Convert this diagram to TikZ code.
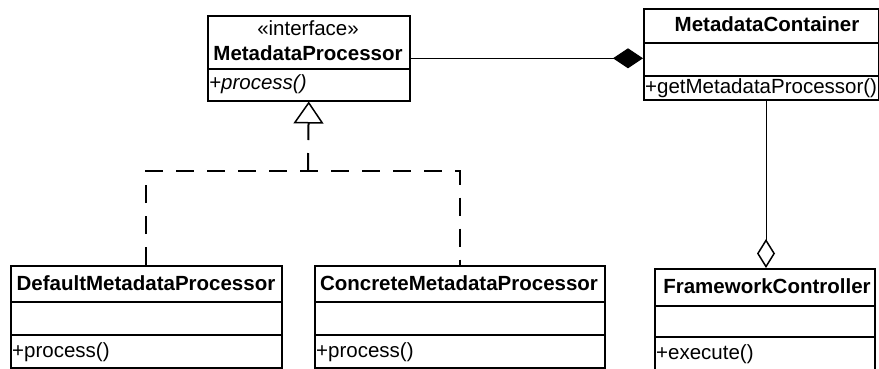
\documentclass[tikz,border=0pt]{standalone}
\usepackage{fontspec}
\setmainfont{Liberation Sans}
\usetikzlibrary{arrows.meta}

\tikzset{
    classbox/.style={draw, line width=1.5pt, inner sep=0pt, anchor=north west},
    classtitle/.style={font=\fontsize{20.5}{24}\selectfont\bfseries, anchor=base, inner sep=0pt},
    member/.style={anchor=base west, inner sep=0pt},
    realize/.style={line width=2pt, dash pattern=on 18pt off 13pt},
    assoc/.style={line width=1pt},
}

\begin{document}
\begin{tikzpicture}[x=1pt,y=-1pt,font=\fontsize{20.5}{24}\selectfont]
        \useasboundingbox (0,0) rectangle (879,368);

        % interface
        \node[classbox, minimum width=202pt, minimum height=85pt] (mp) at (207,15) {};
        \draw[line width=1.5pt] (mp.west |- 0,69) -- (mp.east |- 0,69);
        \node[anchor=base, inner sep=0pt] (mp-st) at (308,35) {«interface»};
        \node[classtitle] (mp-name) at (308,60) {MetadataProcessor};
        \node[member] (mp-op) at (209,89) {\textit{+process()}};

        % container
        \node[classbox, minimum width=235pt, minimum height=91pt] (mc) at (643,8) {};
        \draw[line width=1.5pt] (mc.west |- 0,43) -- (mc.east |- 0,43);
        \draw[line width=1.5pt] (mc.west |- 0,76) -- (mc.east |- 0,76);
        \node[classtitle] (mc-name) at (767,31.5) {MetadataContainer};
        \node[member] (mc-op) at (645,93) {+getMetadataProcessor()};

        % implementations
        \node[classbox, minimum width=271pt, minimum height=102pt] (dmp) at (10,265) {};
        \draw[line width=1.5pt] (dmp.west |- 0,302) -- (dmp.east |- 0,302);
        \draw[line width=1.5pt] (dmp.west |- 0,335) -- (dmp.east |- 0,335);
        \node[classtitle] (dmp-name) at (146,290) {DefaultMetadataProcessor};
        \node[member] (dmp-op) at (12,357.5) {+process()};

        \node[classbox, minimum width=290pt, minimum height=102pt] (cmp) at (314,265) {};
        \draw[line width=1.5pt] (cmp.west |- 0,302) -- (cmp.east |- 0,302);
        \draw[line width=1.5pt] (cmp.west |- 0,335) -- (cmp.east |- 0,335);
        \node[classtitle] (cmp-name) at (459,290) {ConcreteMetadataProcessor};
        \node[member] (cmp-op) at (316,357.5) {+process()};

        % controller
        \node[classbox, minimum width=220pt, minimum height=104pt] (fc) at (654,268) {};
        \draw[line width=1.5pt] (fc.west |- 0,306) -- (fc.east |- 0,306);
        \draw[line width=1.5pt] (fc.west |- 0,337) -- (fc.east |- 0,337);
        \node[classtitle] (fc-name) at (767,293) {FrameworkController};
        \node[member] (fc-op) at (656,359) {+execute()};

        % relations
        \coordinate (jn) at (308,171);
        \coordinate (agg) at (766,268);
        \draw[realize] (dmp.north) |- (jn) -| (cmp.north);
        \draw[realize, -{Triangle[open, line width=1.5pt, length=22pt, width=30pt]}] (jn) -- (mp.south);
        \draw[assoc, -{Diamond[length=30pt, width=20pt]}] (mp.east) -- (mp.east -| mc.west);
        \draw[assoc, -{Diamond[fill=white, line width=1.5pt, length=29pt, width=18pt]}] (mc.south -| agg) -- (agg);
\end{tikzpicture}
\end{document}
